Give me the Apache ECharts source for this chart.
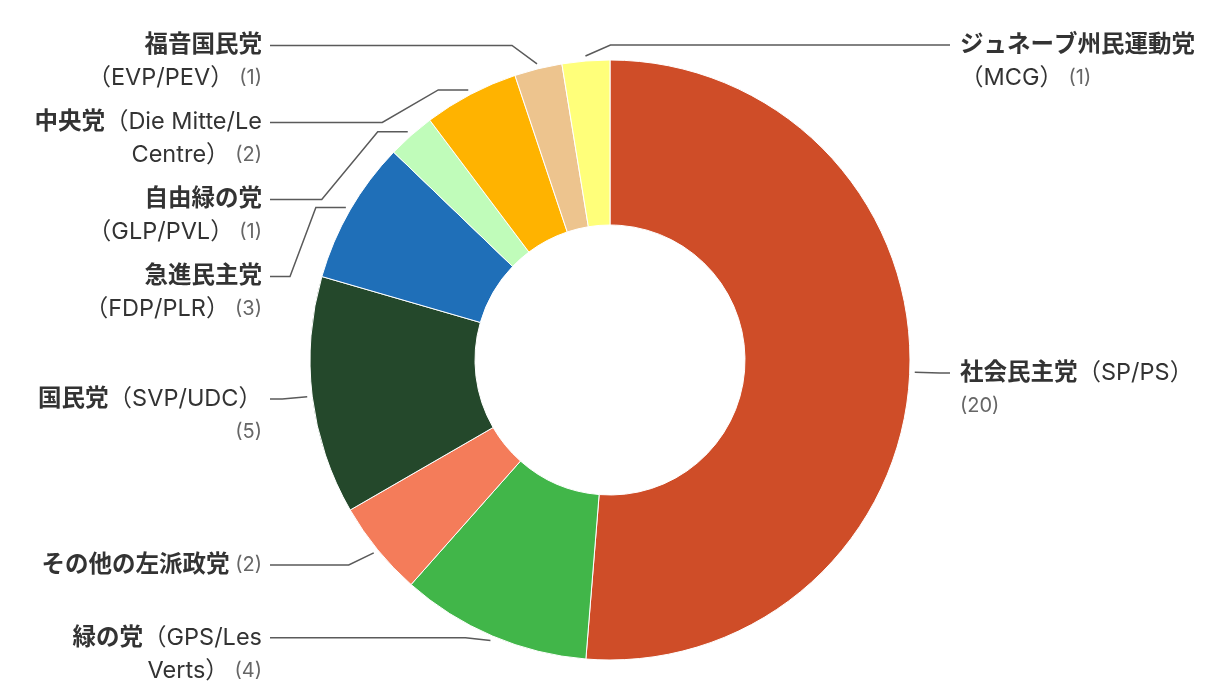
<!DOCTYPE html>
<html><head><meta charset="utf-8">
<script src="https://cdn.jsdelivr.net/npm/echarts@6/dist/echarts.min.js"></script>
<style>html,body{margin:0;padding:0;background:#fff}#c{width:1220px;height:700px}</style>
</head><body><div id="c"></div>
<script>
const partyNames = ['社会民主党','緑の党','その他の左派政党','国民党','急進民主党','自由緑の党','中央党','福音国民党','ジュネーブ州民運動党'];
const partyAbbr = ['（SP/PS）','（GPS/Les Verts）','','（SVP/UDC）','（FDP/PLR）','（GLP/PVL）','（Die Mitte/Le Centre）','（EVP/PEV）','（MCG）'];
const seats = [20, 4, 2, 5, 3, 1, 2, 1, 1];
const colors = ['#CF4D28','#41B649','#F47C5A','#24482B','#1F6FB8','#C0FCBA','#FFB300','#EDC48E','#FFFF7A'];

const CX = 610, CY = 360, R0 = 135, R1 = 300;
const FONT = 'Inter, "Noto Sans CJK JP", sans-serif';
const FS_N = 23.5, FS_V = 20, LH = 33, WRAP = 240;
const LEFT_END = CX - R1 - 40, RIGHT_END = CX + R1 + 40;
const MOVE_RIGHT = 8;  // label drawn on the right side
const SHORT_LINE = 1;  // label kept close to the slice (near the bottom edge)

const ctx = document.createElement('canvas').getContext('2d');
function measure(text, style) {
  ctx.font = (style === 'n' ? 'bold ' : '') + (style === 'v' ? FS_V : FS_N) + 'px ' + FONT;
  return ctx.measureText(text).width;
}
function fmt(p) {
  const i = p.dataIndex;
  const atoms = [];
  for (const ch of partyNames[i]) atoms.push({ t: ch, s: 'n' });
  if (partyAbbr[i]) partyAbbr[i].split(' ').forEach((w, k) => atoms.push({ t: (k ? ' ' : '') + w, s: 'a' }));
  atoms.push({ t: ' (' + p.value + ')', s: 'v' });
  const lines = [[]];
  let w = 0;
  atoms.forEach(a => {
    let t = a.t;
    if (w + measure(t, a.s) > WRAP && lines[lines.length - 1].length) {
      lines.push([]); t = t.replace(/^ /, ''); w = 0;
    }
    lines[lines.length - 1].push({ t: t, s: a.s });
    w += measure(t, a.s);
  });
  return lines.map(l => {
    const m = [];
    l.forEach(a => { const last = m[m.length - 1]; if (last && last.s === a.s) last.t += a.t; else m.push({ t: a.t, s: a.s }); });
    return m.map(a => '{' + a.s + '|' + a.t + '}').join('');
  }).join('\n');
}
// crooked connector from slice to the label line
function connector(p, forceRight) {
  const p0 = p.labelLinePoints[0];
  const pl = p.labelLinePoints[p.labelLinePoints.length - 1];
  const dx = p0[0] - CX, dy = p0[1] - CY, d = Math.sqrt(dx * dx + dy * dy);
  const T = [CX + dx / d * (R1 + 5), CY + dy / d * (R1 + 5)];
  const right = forceRight || dx >= 0;
  const sgn = right ? 1 : -1;
  const end = right ? RIGHT_END : LEFT_END;
  const y = forceRight ? T[1] - 11 : pl[1];
  let pts;
  if (Math.abs(y - T[1]) < 25) {
    pts = [T, [T[0] + sgn * 25, y], [end, y]];
  } else {
    const B = [T[0] + sgn * 30, T[1]];
    const off = Math.min(56, Math.abs(B[0] - end) - 20);
    pts = [T, B, [B[0] + sgn * off, y], [end, y]];
  }
  return {
    x: right ? end + 10 : end - 8, y: y - LH / 2,
    align: right ? 'left' : 'right', verticalAlign: 'top',
    labelLinePoints: pts
  };
}
const labelBase = {
  alignTo: 'labelLine',
  edgeDistance: 2,
  overflow: 'none',
  lineHeight: LH,
  padding: [0, 0, 9, 0],
  fontFamily: FONT,
  formatter: fmt,
  rich: {
    n: { fontSize: FS_N, fontWeight: 'bold', color: '#333', lineHeight: LH, fontFamily: FONT },
    a: { fontSize: FS_N, color: '#333', lineHeight: LH, fontFamily: FONT },
    v: { fontSize: FS_V, color: '#666', lineHeight: LH, fontFamily: FONT }
  }
};
const lineStyle = { color: '#5a5a5a', width: 1.5 };

const chart = echarts.init(document.getElementById('c'));
chart.setOption({
  animation: false,
  series: [{
    type: 'pie',
    center: [CX, CY],
    radius: [R0, R1],
    startAngle: 90,
    clockwise: true,
    avoidLabelOverlap: true,
    itemStyle: { borderColor: '#fff', borderWidth: 1 },
    label: labelBase,
    labelLine: { length: 24, length2: 16, lineStyle: lineStyle },
    labelLayout: function (p) {
      if (!p.labelLinePoints) return {};
      return connector(p, false);
    },
    data: seats.map((v, i) => ({
      name: partyNames[i] + partyAbbr[i], value: v, itemStyle: { color: colors[i] },
      label: i === MOVE_RIGHT ? { show: false } : undefined,
      labelLine: i === MOVE_RIGHT ? { show: false } : (i === SHORT_LINE ? { length: 2 } : undefined)
    }))
  }, {
    type: 'pie',
    center: [CX, CY],
    radius: [R0, R1],
    startAngle: 90,
    clockwise: true,
    silent: true,
    z: 3,
    itemStyle: { color: 'rgba(0,0,0,0)' },
    label: Object.assign({}, labelBase, { show: false }),
    labelLine: { show: false, length: 24, length2: 16, lineStyle: lineStyle },
    labelLayout: function (p) {
      if (p.dataIndex !== MOVE_RIGHT || !p.labelLinePoints) return {};
      return connector(p, true);
    },
    data: seats.map((v, i) => ({
      name: partyNames[i] + partyAbbr[i], value: v,
      label: i === MOVE_RIGHT ? { show: true } : undefined,
      labelLine: i === MOVE_RIGHT ? { show: true } : undefined
    }))
  }]
});
</script></body></html>
